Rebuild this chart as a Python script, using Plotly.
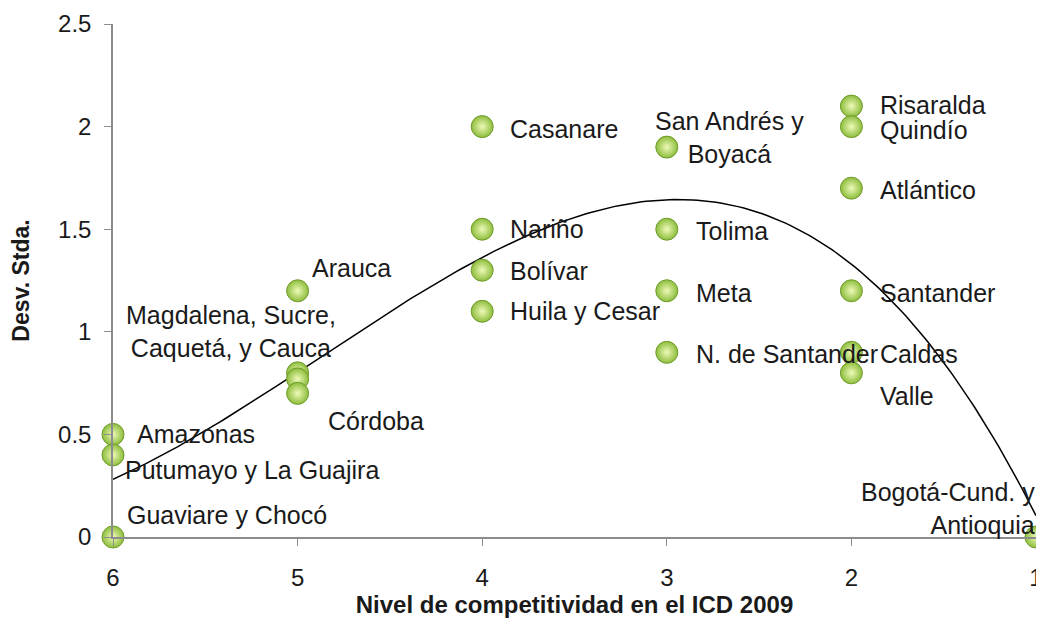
import numpy as np
import plotly.graph_objects as go

# Nivel de competitividad (ICD 2009) y desviación estándar por grupo de departamentos
nivel = [6, 6, 6, 5, 5, 5, 5, 4, 4, 4, 4, 3, 3, 3, 3, 2, 2, 2, 2, 2, 2, 1]
desv = [0.5, 0.4, 0.0, 1.2, 0.8, 0.77, 0.7, 2.0, 1.5, 1.3, 1.1, 1.9, 1.5, 1.2, 0.9,
        2.1, 2.0, 1.7, 1.2, 0.9, 0.8, 0.0]
# cuántos departamentos representa cada punto
n_dptos = [1, 2, 2, 1, 2, 2, 1, 1, 1, 1, 2, 2, 1, 1, 1, 1, 1, 1, 1, 1, 1, 2]
etiquetas = ["Amazonas", "Putumayo y La Guajira", "Guaviare y Chocó", "Arauca",
             "Magdalena, Sucre,<br>Caquetá, y Cauca", "", "Córdoba",
             "Casanare", "Nariño", "Bolívar", "Huila y Cesar",
             "San Andrés y<br>Boyacá", "Tolima", "Meta", "N. de Santander",
             "Risaralda", "Quindío", "Atlántico", "Santander", "Caldas", "Valle",
             "Bogotá-Cund. y<br>Antioquia"]

# colocación de cada etiqueta: (anclaje, desplazamiento x, desplazamiento y) en px
colocacion = [("left", 22, 0), ("left", 10, -15), ("left", 12, 22), ("left", 12, 23),
              ("center", -67, 41), ("left", 0, 0), ("left", 28, -28),
              ("left", 26, -2), ("left", 26, 0), ("left", 26, -1), ("left", 26, 0),
              ("center", 63, 10), ("left", 27, -2), ("left", 27, -2), ("left", 27, -2),
              ("left", 27, 1), ("left", 27, -3), ("left", 27, -2), ("left", 27, -2),
              ("left", 27, -2), ("left", 27, -23), ("right", 1, 29)]

# línea de tendencia polinómica (grado 3) sobre todos los departamentos
xs = np.repeat(nivel, n_dptos)
ys = np.repeat(desv, n_dptos)
coef = np.polyfit(xs, ys, 3)
xt = np.linspace(6, 1, 200)
yt = np.polyval(coef, xt)

fig = go.Figure()
fig.add_trace(go.Scatter(x=xt, y=yt, mode="lines",
                         line=dict(color="black", width=1.5), hoverinfo="skip"))
fig.add_trace(go.Scatter(
    x=nivel, y=desv, mode="markers", cliponaxis=False,
    marker=dict(size=22, color="#8dbd3c",
                gradient=dict(type="radial", color="#eefab9"),
                line=dict(color="#6f9a2c", width=1))))

for x, y, t, (anc, dx, dy) in zip(nivel, desv, etiquetas, colocacion):
    if not t:
        continue
    fig.add_annotation(x=x, y=y, text=t, showarrow=False, xanchor=anc, yanchor="middle",
                       align=anc, xshift=dx, yshift=dy,
                       font=dict(size=25, color="#1a1a1a"))

# la página añade 8 px de margen, así que la figura es algo menor que la ventana
fig.update_layout(
    width=1036, height=633, showlegend=False,
    plot_bgcolor="white", paper_bgcolor="white",
    margin=dict(l=105, r=8, t=16, b=104),
    font=dict(family="Liberation Sans, Arial, sans-serif", color="#1a1a1a"),
)
fig.update_xaxes(range=[6, 1], tickvals=[6, 5, 4, 3, 2, 1], showgrid=False, zeroline=False,
                 automargin=False,
                 showline=True, linecolor="#8c8c8c", linewidth=1.5,
                 ticks="outside", ticklen=7, tickcolor="#8c8c8c",
                 ticklabelstandoff=11, tickfont=dict(size=24),
                 title=dict(text="<b>Nivel de competitividad en el ICD 2009</b>",
                            font=dict(size=24), standoff=0))
fig.update_yaxes(range=[0, 2.5], dtick=0.5, showgrid=False, zeroline=False,
                 automargin=False,
                 showline=True, linecolor="#8c8c8c", linewidth=1.5,
                 ticks="outside", ticklen=7, tickcolor="#8c8c8c",
                 ticklabelstandoff=8, tickfont=dict(size=24),
                 title=dict(text="<b>Desv. Stda.</b>", font=dict(size=23), standoff=22))

fig.write_html("out.html")
